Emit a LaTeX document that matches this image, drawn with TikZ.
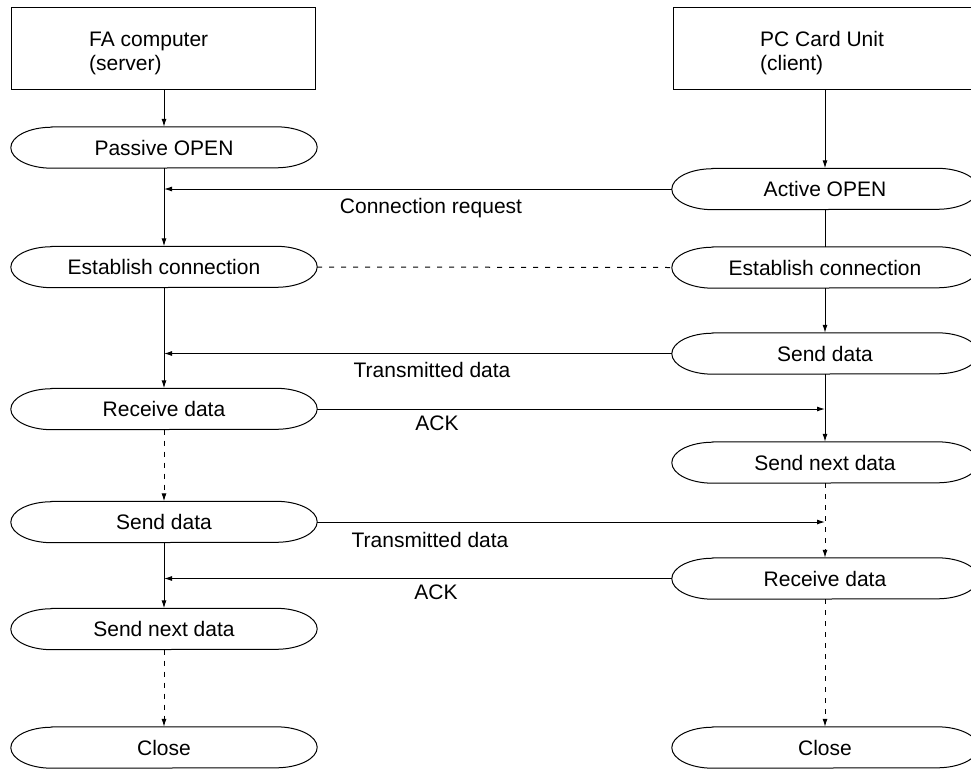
\documentclass[tikz,border=0pt]{standalone}
\usepackage{fontspec}
\setmainfont{Liberation Sans}
\usetikzlibrary{arrows.meta,calc}
\begin{document}
\begin{tikzpicture}[x=1pt,y=-1pt,
  every node/.style={font=\fontsize{21}{24}\selectfont},
  ovalnode/.style={inner sep=0pt, minimum width=306pt, minimum height=41pt},
  boxnode/.style={draw, line width=1pt, minimum width=304pt, minimum height=82pt, inner sep=0pt},
  plain/.style={line width=1pt},
  arr/.style={plain, -{Latex[length=8pt,width=5pt]}},
  dasharr/.style={arr, dash pattern=on 5pt off 6pt},
  dashline/.style={plain, dash pattern=on 5pt off 7pt},
  lbl/.style={anchor=base, inner sep=0pt},
  boxtext/.style={anchor=base west, inner sep=0pt}
]
\useasboundingbox (0,0) rectangle (971,769);

% header boxes
\node[boxnode] (fa) at (163.5,48) {};
\node[boxtext] (fa1) at (89,46) {FA computer};
\node[boxtext] (fa2) at (89,70) {(server)};
\node[boxnode] (pc) at (825,48) {};
\node[boxtext] (pc1) at (760,46) {PC Card Unit};
\node[boxtext] (pc2) at (760,70) {(client)};

% left column ovals
\node[ovalnode] (po)   at (164,147.5) {Passive OPEN};
\node[ovalnode] (ecl)  at (164,267)   {Establish connection};
\node[ovalnode] (rdl)  at (164,409)   {Receive data};
\node[ovalnode] (sdl)  at (164,522)   {Send data};
\node[ovalnode] (sndl) at (164,629)   {Send next data};
\node[ovalnode] (cl)   at (164,747.5) {Close};

% right column ovals
\node[ovalnode] (ao)   at (825,189)   {Active OPEN};
\node[ovalnode] (ecr)  at (825,267.5) {Establish connection};
\node[ovalnode] (sdr)  at (825,353.5) {Send data};
\node[ovalnode] (sndr) at (825,462.5) {Send next data};
\node[ovalnode] (rdr)  at (825,578.5) {Receive data};
\node[ovalnode] (cr)   at (825,747.5) {Close};

% oval outlines
\foreach \n in {po,ecl,rdl,sdl,sndl,cl,ao,ecr,sdr,sndr,rdr,cr}{
  \draw[plain] ($(\n.north west)+(41pt,0)$) -- ($(\n.north east)+(-41pt,0)$)
    arc[start angle=90,end angle=-90,x radius=41pt,y radius=20.5pt]
    -- ($(\n.south west)+(41pt,0)$)
    arc[start angle=270,end angle=90,x radius=41pt,y radius=20.5pt] -- cycle;
}

% left vertical connectors
\draw[arr] (fa.south -| po.north) -- (po.north);
\draw[arr] (po.south) -- (ecl.north);
\draw[arr] (ecl.south) -- (rdl.north);
\draw[dasharr] (rdl.south) -- (sdl.north);
\draw[arr] (sdl.south) -- (sndl.north);
\draw[dasharr] (sndl.south) -- (cl.north);

% right vertical connectors
\draw[arr] (pc.south) -- (ao.north);
\draw[plain] (ao.south) -- (ecr.north);
\draw[arr] (ecr.south) -- (sdr.north);
\draw[arr] (sdr.south) -- (sndr.north);
\draw[dasharr] (sndr.south) -- (rdr.north);
\draw[dasharr] (rdr.south) -- (cr.north);

% horizontal connectors
\draw[arr] (ao.west) -- (po.south |- ao.west);
\draw[dashline] (ecl.east) -- (ecr.west);
\draw[arr] (sdr.west) -- (ecl.south |- sdr.west);
\draw[arr] (rdl.east) -- (sdr.south |- rdl.east);
\draw[arr] (sdl.east) -- (sndr.south |- sdl.east);
\draw[arr] (rdr.west) -- (sdl.south |- rdr.west);

% labels
\node[lbl] (l1) at (431,213) {Connection request};
\node[lbl] (l2) at (432,377) {Transmitted data};
\node[lbl] (l3) at (437,430) {ACK};
\node[lbl] (l4) at (430,547) {Transmitted data};
\node[lbl] (l5) at (436,599) {ACK};
\end{tikzpicture}
\end{document}
